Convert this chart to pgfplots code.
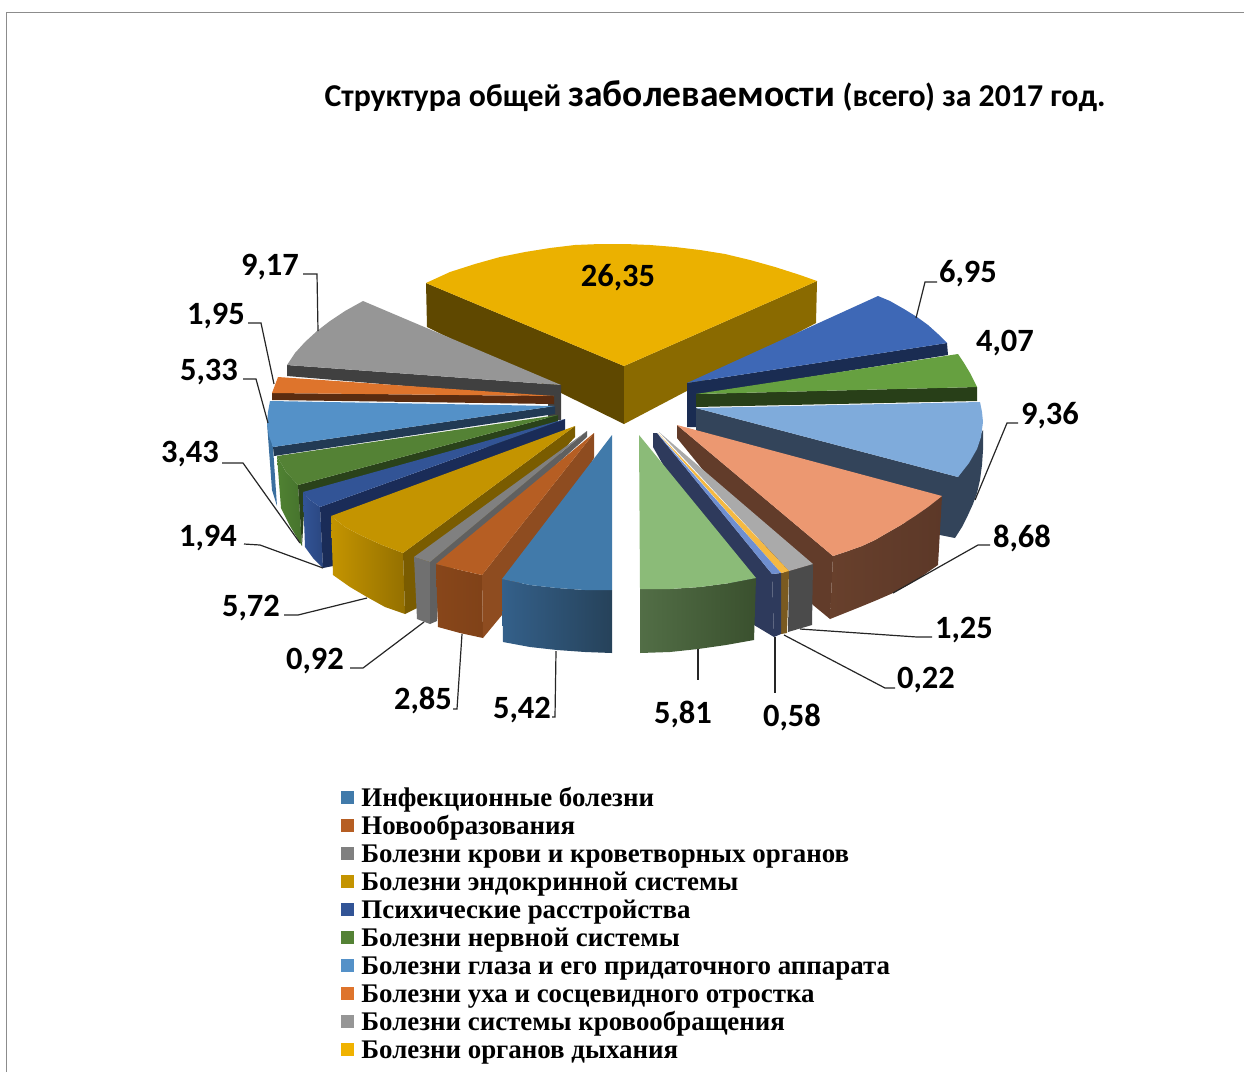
\documentclass[border=0pt]{standalone}
\usepackage{fontspec}
\setmainfont{Carlito}
\newfontfamily\legfont{Liberation Serif}
\usepackage{pgfplots}
\pgfplotsset{compat=1.18}
\newcommand\face[2]{\addplot[fill=#1,draw=none,forget plot] coordinates {#2} --cycle;}
\newcommand\sface[3]{\addplot[left color=#1,right color=#2,draw=none,forget plot] coordinates {#3} --cycle;}
\newcommand\lead[1]{\addplot[draw=black!85,line width=1.2pt,forget plot] coordinates {#1};}
\newcommand\lab[3]{\node[font=\fontsize{32.5}{32.5}\selectfont\bfseries,text=black,inner sep=0pt,yshift=-2pt] at (axis cs:#1,#2) {#3};}
\newcommand\legt[1]{\hspace*{8pt}\rule[-8pt]{0pt}{28pt}#1}
\pgfplotsset{legend image code/.code={\fill[#1] (0pt,-6pt) rectangle (12pt,6pt);}}
\begin{document}
\begin{tikzpicture}
\begin{axis}[scale only axis,width=1244pt,height=1072pt,xmin=0,xmax=1244,ymin=0,ymax=1072,y dir=reverse,hide axis,
 legend style={at={(axis cs:341,786)},anchor=north west,draw=none,fill=none,inner sep=0pt,outer sep=0pt,
  font=\legfont\fontsize{26.9}{28}\selectfont\bfseries,row sep=6.56pt,nodes={inner sep=0pt,outer sep=0pt}},
 legend cell align=left]
\addlegendimage{color={rgb,255:red,65;green,122;blue,170}}\addlegendentry{\legt{Инфекционные болезни}}
\addlegendimage{color={rgb,255:red,182;green,94;blue,35}}\addlegendentry{\legt{Новообразования}}
\addlegendimage{color={rgb,255:red,128;green,128;blue,128}}\addlegendentry{\legt{Болезни крови и кроветворных органов}}
\addlegendimage{color={rgb,255:red,196;green,148;blue,0}}\addlegendentry{\legt{Болезни эндокринной системы}}
\addlegendimage{color={rgb,255:red,50;green,84;blue,150}}\addlegendentry{\legt{Психические расстройства}}
\addlegendimage{color={rgb,255:red,84;green,130;blue,53}}\addlegendentry{\legt{Болезни нервной системы}}
\addlegendimage{color={rgb,255:red,84;green,145;blue,200}}\addlegendentry{\legt{Болезни глаза и его придаточного аппарата}}
\addlegendimage{color={rgb,255:red,222;green,116;blue,44}}\addlegendentry{\legt{Болезни уха и сосцевидного отростка}}
\addlegendimage{color={rgb,255:red,150;green,150;blue,150}}\addlegendentry{\legt{Болезни системы кровообращения}}
\addlegendimage{color={rgb,255:red,240;green,178;blue,0}}\addlegendentry{\legt{Болезни органов дыхания}}
% page extent
\path (axis cs:0,0) rectangle (axis cs:1244,1072);
% frame
\addplot[draw=black!45,line width=1pt,forget plot] coordinates {(6,1072) (6,12) (1244,12)};
% 26,35
\face{{rgb,255:red,95;green,72;blue,0}}{(426,283) (624,366) (624,424) (427,327)}
\face{{rgb,255:red,138;green,106;blue,0}}{(624,366) (817,281) (816,323) (624,424)}
\face{{rgb,255:red,235;green,177;blue,0}}{(426,283) (450,272) (475,264) (500,257) (525,252) (550,248) (575,245) (600,244) (625,244) (650,245) (675,247) (700,250) (725,254) (750,260) (775,267) (800,275) (817,281) (624,366)}
% 6,95
\face{{rgb,255:red,26;green,44;blue,82}}{(687,383) (947,343) (948,355) (696,395) (696,427) (687,427)}
\face{{rgb,255:red,62;green,104;blue,182}}{(687,383) (878,296) (890,301) (904,309) (917,317) (928,325) (938,334) (947,343)}
% 4,07
\face{{rgb,255:red,40;green,63;blue,24}}{(696,394) (977,387) (977,401) (696,407)}
\face{{rgb,255:red,102;green,160;blue,64}}{(696,394) (958,354) (964,363) (970,373) (977,387)}
% 9,36
\face{{rgb,255:red,51;green,68;blue,90}}{(696,408) (696,440) (940,535) (955,538) (962,527) (968,515) (973,504) (977,493) (980,480) (982,465) (983,450) (983,430) (958,477)}
\face{{rgb,255:red,127;green,171;blue,219}}{(696,408) (980,402) (982,412) (983,422) (981,437) (977,449) (969,463) (958,477)}
% 8,68
\face{{rgb,255:red,98;green,60;blue,42}}{(677,425) (833,556) (830,619) (813,605) (677,438)}
\sface{{rgb,255:red,104;green,64;blue,44}}{{rgb,255:red,92;green,56;blue,40}}{(833,556) (848,551) (862,546) (875,540) (887,533) (901,525) (915,516) (928,507) (942,496) (938,565) (928,572) (918,579) (906,586) (893,593) (877,600) (860,607) (845,613) (830,619)}
\face{{rgb,255:red,236;green,152;blue,113}}{(677,425) (942,496) (928,507) (915,516) (901,525) (887,533) (875,540) (862,546) (848,551) (833,556)}
% 1,25
\face{{rgb,255:red,75;green,75;blue,75}}{(789,571) (813,564) (812,625) (788,632)}
\face{{rgb,255:red,170;green,170;blue,170}}{(659,432) (813,564) (789,571)}
% 0,22
\face{{rgb,255:red,122;green,90;blue,32}}{(781,573) (789,571) (787,633) (781,634)}
\face{{rgb,255:red,245;green,185;blue,66}}{(658,433) (789,571) (781,573)}
% 0,58
\face{{rgb,255:red,46;green,58;blue,92}}{(657,433) (653,433) (653,447) (754,625) (774,637) (772,574)}
\face{{rgb,255:red,46;green,58;blue,92}}{(772,574) (781,573) (781,634) (774,637)}
\face{{rgb,255:red,111;green,143;blue,208}}{(657,433) (781,573) (772,574)}
% 5,81
\sface{{rgb,255:red,82;green,110;blue,70}}{{rgb,255:red,58;green,80;blue,46}}{(640,589) (670,589) (700,587) (730,583) (756,578) (754,640) (726,645) (698,649) (670,652) (640,653)}
\face{{rgb,255:red,139;green,187;blue,120}}{(639,435) (756,578) (730,583) (700,587) (670,589) (640,589)}
% 9,17
\face{{rgb,255:red,64;green,64;blue,64}}{(287,365) (561,385) (561,420) (548,420) (548,398) (287,376)}
\face{{rgb,255:red,150;green,150;blue,150}}{(561,385) (363,301) (345,311) (330,321) (317,331) (305,342) (295,353) (287,365)}
% 1,95
\face{{rgb,255:red,90;green,44;blue,16}}{(272,393) (554,396) (554,404) (272,400)}
\face{{rgb,255:red,222;green,116;blue,44}}{(554,396) (278,377) (272,393)}
% 5,33
\face{{rgb,255:red,58;green,111;blue,159}}{(267,423) (273,447) (277,506) (272,490) (269,450)}
\face{{rgb,255:red,34;green,58;blue,84}}{(273,447) (555,406) (555,414) (274,456)}
\face{{rgb,255:red,84;green,145;blue,200}}{(555,406) (270,401) (268,412) (267,423) (269,436) (273,447)}
% 3,43
\sface{{rgb,255:red,80;green,130;blue,50}}{{rgb,255:red,70;green,115;blue,45}}{(277,456) (286,472) (298,485) (302,546) (290,526) (281,508)}
\face{{rgb,255:red,42;green,66;blue,26}}{(298,485) (558,415) (558,428) (305,496) (302,546)}
\face{{rgb,255:red,84;green,130;blue,53}}{(558,415) (277,456) (286,472) (298,485)}
% 1,94
\sface{{rgb,255:red,50;green,84;blue,150}}{{rgb,255:red,42;green,70;blue,128}}{(303,492) (310,500) (320,507) (323,568) (313,558) (305,547)}
\face{{rgb,255:red,26;green,44;blue,88}}{(320,507) (565,419) (565,431) (333,516) (333,566) (323,568)}
\face{{rgb,255:red,50;green,84;blue,150}}{(565,419) (303,492) (310,500) (320,507)}
% 5,72
\sface{{rgb,255:red,196;green,148;blue,0}}{{rgb,255:red,148;green,112;blue,0}}{(331,516) (345,527) (360,535) (382,545) (403,553) (405,614) (385,607) (367,597) (350,587) (333,575)}
\face{{rgb,255:red,122;green,92;blue,0}}{(403,553) (575,426) (575,437) (417,608) (405,614)}
\face{{rgb,255:red,196;green,148;blue,0}}{(575,426) (331,516) (345,527) (360,535) (382,545) (403,553)}
% 0,92
\face{{rgb,255:red,112;green,112;blue,112}}{(414,557) (430,562) (430,624) (417,619)}
\face{{rgb,255:red,96;green,96;blue,96}}{(430,562) (587,431) (587,437) (440,569) (437,621) (430,624)}
\face{{rgb,255:red,128;green,128;blue,128}}{(587,431) (414,557) (430,562)}
% 2,85
\sface{{rgb,255:red,136;green,70;blue,26}}{{rgb,255:red,128;green,66;blue,24}}{(436,564) (460,570) (482,575) (483,638) (460,633) (438,627)}
\face{{rgb,255:red,142;green,76;blue,32}}{(482,575) (594,433) (594,458) (502,615) (483,638)}
\face{{rgb,255:red,182;green,94;blue,35}}{(594,433) (436,564) (460,570) (482,575)}
% 5,42
\sface{{rgb,255:red,52;green,96;blue,138}}{{rgb,255:red,38;green,66;blue,90}}{(502,579) (530,585) (557,588) (585,590) (612,590) (612,653) (585,652) (557,650) (530,647) (503,642)}
\face{{rgb,255:red,65;green,122;blue,170}}{(612,435) (502,579) (530,585) (557,588) (585,590) (612,590)}
% leader lines
\lead{(303,274) (317,274) (318,331)}
\lead{(248,323) (261,323) (274,384)}
\lead{(243,379) (256,379) (268,423)}
\lead{(222,463) (243,463) (300,543)}
\lead{(244,544) (260,545) (323,568)}
\lead{(284,615) (298,615) (367,598)}
\lead{(350,668) (363,668) (424,622)}
\lead{(453,709) (457,709) (462,634)}
\lead{(552,717) (555,717) (556,651)}
\lead{(698,649) (698,680)}
\lead{(775,637) (775,693)}
\lead{(784,635) (885,688) (895,688)}
\lead{(800,629) (917,637) (932,637)}
\lead{(893,593) (978,545) (990,545)}
\lead{(1018,423) (1007,423) (975,500)}
\lead{(937,282) (925,282) (916,318)}
% labels
\lab{618}{276}{26,35}
\lab{968}{272}{6,95}
\lab{1005}{341}{4,07}
\lab{1050}{414}{9,36}
\lab{1022}{536}{8,68}
\lab{964}{628}{1,25}
\lab{926}{678}{0,22}
\lab{792}{715}{0,58}
\lab{683}{712}{5,81}
\lab{522}{708}{5,42}
\lab{423}{698}{2,85}
\lab{315}{659}{0,92}
\lab{251}{606}{5,72}
\lab{208}{536}{1,94}
\lab{190}{452}{3,43}
\lab{209}{370}{5,33}
\lab{216}{314}{1,95}
\lab{270}{265}{9,17}
% title
\node[anchor=base,inner sep=0pt,font=\bfseries\fontsize{31.8}{31.8}\selectfont] at (axis cs:715,106.5) {Структура общей {\fontsize{37.5}{37.5}\selectfont заболеваемости} (всего) за 2017 год.};
\end{axis}
\end{tikzpicture}
\end{document}
